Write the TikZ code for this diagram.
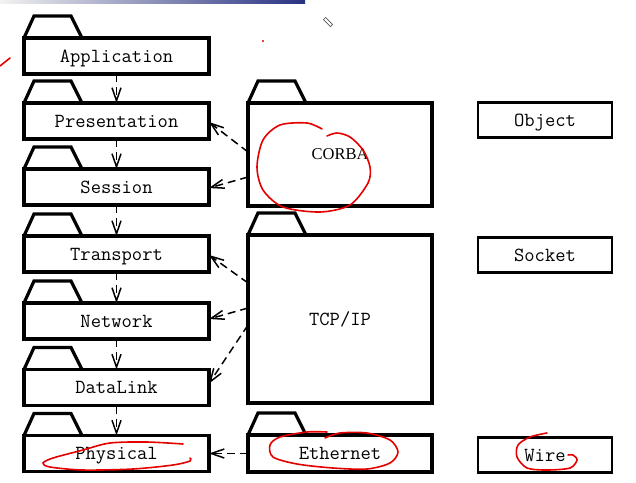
\documentclass[tikz,border=0pt]{standalone}
\usepackage{fontspec}
\setmainfont{Liberation Serif}
\usetikzlibrary{arrows.meta,calc}
\begin{document}
\begin{tikzpicture}[x=1pt,y=-1pt,
  pkg/.style={draw, line width=3.2pt, inner sep=0pt, outer sep=0pt,
    text height=14pt, text depth=2pt,
    font=\ttfamily\fontsize{20}{24}\selectfont, minimum width=185pt, minimum height=36pt},
  tabline/.style={draw, line width=3.2pt, line join=miter},
  cls/.style={draw, line width=2.2pt, inner sep=0pt, outer sep=0pt,
    text height=14pt, text depth=2pt,
    font=\ttfamily\fontsize{20}{24}\selectfont, minimum width=134pt, minimum height=35pt},
  dep/.style={line width=1.5pt, dash pattern=on 8pt off 5pt,
    -{Straight Barb[length=13pt,width=9pt,line width=1.5pt]}},
  ink/.style={draw=red!90!black, line width=1.6pt, line cap=round},
]
\useasboundingbox (0,0) rectangle (636,482);
\fill[white] (0,0) rectangle (636,482);
\shade[left color=gray!10, right color={rgb,255:red,40;green,50;blue,130}] (0,0) rectangle (305,3);

% left packages
\node[pkg] (app)  at (116.5,56)  {Application};
\node[pkg] (pres) at (116.5,121) {Presentation};
\node[pkg] (sess) at (116.5,187) {Session};
\node[pkg] (tran) at (116.5,254) {Transport};
\node[pkg] (net)  at (116.5,321) {Network};
\node[pkg] (dl)   at (116.5,387.5) {DataLink};
\node[pkg] (phys) at (116.5,453.5) {Physical};

% right packages
\node[pkg, minimum width=184pt, minimum height=103pt, text height=12.6pt,
  font=\fontsize{16.5}{19}\selectfont] (corba) at (340,154.5) {CORBA};
\node[pkg, minimum width=184pt, minimum height=168pt] (tcp) at (340,319) {TCP/IP};
\node[pkg, minimum width=184pt, minimum height=37pt] (eth) at (340,453.5) {Ethernet};

% tabs
\foreach \n in {app,pres,sess,tran,net,dl,phys,corba,tcp,eth}
  \draw[tabline] (\n.north west) -- ++(10,-22) -- ++(37,0) -- ++(11,22);

% classes
\node[cls] (obj)  at (545,120) {Object};
\node[cls] (sock) at (545,255) {Socket};
\node[cls] (wire) at (545,455) {Wire};

% vertical dependencies
\draw[dep] (app.south)  -- (pres.north);
\draw[dep] (pres.south) -- (sess.north);
\draw[dep] (sess.south) -- (tran.north);
\draw[dep] (tran.south) -- (net.north);
\draw[dep] (net.south)  -- (dl.north);
\draw[dep] (dl.south)   -- (phys.north);

% cross dependencies
\draw[dep] ($(corba.west)+(0,-2.5)$) -- ($(pres.east)+(0,1)$);
\draw[dep] ($(corba.west)+(0,22.5)$) -- ($(sess.east)+(0,1)$);
\draw[dep] ($(tcp.west)+(0,-36)$) -- ($(tran.east)+(0,1)$);
\draw[dep] ($(tcp.west)+(0,-11)$) -- ($(net.east)+(0,-2)$);
\draw[dep] ($(tcp.west)+(0,6)$) -- ($(dl.east)+(0,-4)$);
\draw[dep] (eth.west) -- (phys.east);

% red ink annotations
\draw[ink] plot[smooth] coordinates {(322,129) (307,123) (280,125) (263,140) (257,167) (263,190) (283,207) (320,212) (350,205) (368,183) (370,167) (363,150) (350,137) (337,133) (327,136)};
\draw[ink] plot[smooth] coordinates {(183,444) (147,442) (110,443) (83,450) (53,458) (43,463) (50,467) (83,470) (133,469) (173,465) (190,461) (190,458)};
\draw[ink] plot[smooth] coordinates {(325,438) (340,433) (367,433) (390,440) (398,452) (390,463) (367,469) (333,468) (297,464) (273,457) (270,445) (280,437) (307,432) (327,432)};
\draw[ink] plot[smooth] coordinates {(547,433) (530,437) (518,445) (517,457) (527,468) (547,470) (570,468) (577,460) (573,455) (568,455)};
\draw[ink] (0,66) -- (10,58);
\fill[red!90!black] (263,41) circle (1.1);

% pencil icon
\draw[gray!70!black, line width=0.6pt, rotate around={-45:(328,22)}] (323,20.5) rectangle (333,23.5);
\end{tikzpicture}
\end{document}
